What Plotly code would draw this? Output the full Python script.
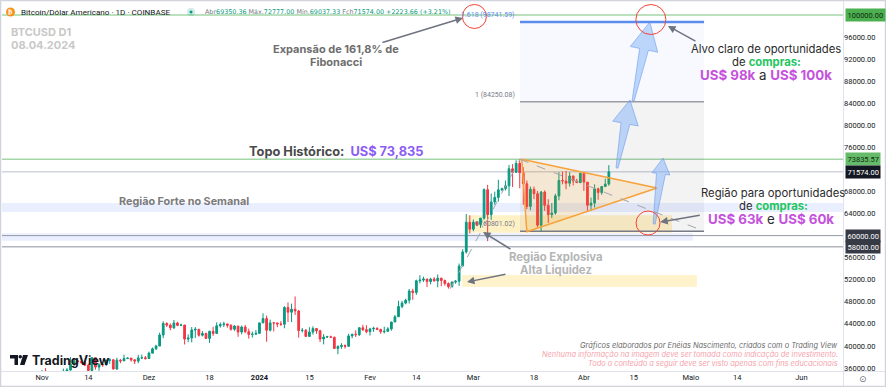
import math
import pandas as pd
import plotly.graph_objects as go

# ---------------- data (BTCUSD daily, Coinbase) ----------------
START = "2023-10-21"
OPEN = [29670, 29910, 29990, 33070, 33920, 34500, 34150, 33900, 34090, 34540, 34500,
        34650, 35420, 34940, 34730, 35080, 35050, 35040, 35420, 35630, 36700, 37320, 37140, 37060, 36500, 35540,
        37880, 36160, 36600, 36590, 37390, 37480, 35810, 37420, 37290, 37720, 37800, 37480, 37250, 37830, 37860,
        37720, 38690, 39470, 39980, 41980, 44080, 43770, 43290, 44170, 43720, 43790, 41240, 41450, 42890, 43020,
        41940, 42260, 41370, 42660, 42260, 43650, 43870, 43990, 43740, 43020, 43610, 42520, 43440, 42580, 42070, 42140,
        42280, 44180, 44960, 42850, 44180, 44160, 43970, 43930, 46970, 46120, 46660, 46340, 42780, 42840, 41730,
        42510, 43150, 42740, 41260, 41620, 41660, 41580, 39540, 39900, 40080, 39940, 41820, 42120, 42030, 43300, 42950,
        42580, 43080, 43190, 43000, 42580, 42660, 43090, 44340, 45290, 47150, 47770, 48290, 49960, 49700, 51810,
        51940, 52130, 51660, 52120, 51780, 52280, 51860, 51320, 50740, 51570, 51730, 54480, 57040, 62430,
        61170, 62440, 62030, 63170, 68330, 63800, 66110, 66930, 68300, 68500, 69020, 72120, 71480, 73100, 71400,
        69400, 65300, 68400, 67600, 61900, 67900, 65500, 63800, 64100, 67200, 70000, 69900, 69500, 70800, 69900, 69600,
        71300, 69700, 65500, 65900, 68500, 67800, 68900, 69350.36]
HIGH = [30290, 30200, 34000, 35200, 35130, 34840, 34240, 34470, 34750, 34860, 34720,
        35570, 35980, 34940, 35280, 35380, 35290, 35890, 35980, 37970, 37520, 37410, 37230, 37430, 36780, 37960,
        37930, 36830, 36840, 37520, 37760, 37650, 37860, 37650, 38420, 37890, 37820, 37570, 38390, 38440, 38170,
        38970, 39710, 40210, 42410, 44480, 44290, 44060, 44700, 44370, 44040, 43800, 42100, 43430, 43420, 43080,
        42700, 42420, 42750, 43480, 44280, 44240, 44370, 43990, 43940, 43780, 43610, 43680, 43800, 43140, 42600, 42890,
        44190, 45900, 45500, 44770, 44350, 44220, 44500, 47220, 47900, 47670, 48970, 46510, 43250, 43080, 43400,
        43570, 43200, 42930, 42150, 41840, 41870, 41680, 40130, 40500, 40280, 42200, 42200, 42840, 43310, 43840, 43750,
        43290, 43480, 43380, 43120, 43500, 43400, 44370, 45600, 48190, 48170, 48570, 50330, 50370, 52020, 52820,
        52570, 52180, 52370, 52490, 52950, 52370, 52040, 51530, 51700, 51950, 54940, 57540, 63910, 63680,
        62920, 62480, 63200, 68570, 69200, 67630, 67980, 70130, 68670, 69980, 72800, 72960, 73650, 73835.57, 72400,
        70000, 68900, 68900, 68100, 68100, 68200, 66600, 65900, 67600, 71500, 71600, 71700, 71500, 70900, 70300, 71400,
        71300, 69700, 66900, 69300, 68700, 69000, 70300, 72777.00]
LOW = [29470, 29680, 29900, 32850, 33690, 33830, 33400, 33880, 34050, 34070, 34070,
       34100, 34360, 34100, 34580, 34530, 34750, 34520, 35120, 35540, 36340, 36740, 36750, 36340, 34920, 35370,
       35700, 35510, 36210, 36390, 36750, 35760, 35690, 36870, 37250, 37600, 37150, 36720, 36870, 37610, 37500,
       37610, 38650, 39280, 39980, 41410, 43420, 42830, 43080, 43580, 43580, 40260, 40680, 40650, 41450, 41690,
       41720, 41260, 40540, 41820, 42200, 43310, 43420, 43310, 42780, 42740, 41660, 42100, 42320, 41320, 41530, 41970,
       42190, 44160, 40750, 42630, 42630, 43400, 43630, 43200, 44340, 44340, 45610, 41500, 42440, 41720, 41720,
       42050, 42200, 40680, 40280, 41430, 41500, 39450, 38500, 39480, 39520, 39820, 41400, 41620, 41800, 42690, 42280,
       41880, 42560, 42880, 42220, 42260, 42570, 42770, 44330, 45250, 46820, 47550, 47700, 48360, 49260, 51340,
       51600, 50660, 51170, 51690, 50630, 50830, 50930, 50390, 50600, 51280, 50900, 54450, 56750, 60400,
       60800, 61700, 61400, 62900, 59000, 62850, 65600, 66160, 68050, 68180, 67200, 68800, 71350, 68600, 65600,
       64800, 64600, 66600, 61500, 60801, 64500, 62300, 63200, 63800, 66400, 69300, 68400, 68900, 69100, 69600, 69600,
       68100, 64500, 64500, 65100, 66500, 67400, 68800, 69037.33]
CLOSE = [29910, 29990, 33070, 33920, 34500, 34150, 33900, 34090, 34540, 34500, 34650,
         35420, 34940, 34730, 35080, 35050, 35040, 35420, 35630, 36700, 37320, 37140, 37060, 36500, 35540, 37880,
         36160, 36600, 36590, 37390, 37480, 35810, 37420, 37290, 37720, 37800, 37480, 37250, 37830, 37860, 37720,
         38690, 39470, 39980, 41980, 44080, 43770, 43290, 44170, 43720, 43790, 41240, 41450, 42890, 43020, 41940,
         42260, 41370, 42660, 42260, 43650, 43870, 43990, 43740, 43020, 43610, 42520, 43440, 42580, 42070, 42140, 42280,
         44180, 44960, 42850, 44180, 44160, 43970, 43930, 46970, 46120, 46660, 46340, 42780, 42840, 41730, 42510,
         43150, 42740, 41260, 41620, 41660, 41580, 39540, 39900, 40080, 39940, 41820, 42120, 42030, 43300, 42950, 42580,
         43080, 43190, 43000, 42580, 42660, 43090, 44340, 45290, 47150, 47770, 48290, 49960, 49700, 51810, 51940,
         52130, 51660, 52120, 51780, 52280, 51860, 51320, 50740, 51570, 51730, 54480, 57040, 62430, 61170,
         62440, 62030, 63170, 68330, 63800, 66110, 66930, 68300, 68500, 69020, 72120, 71480, 73100, 71400, 69400,
         65300, 68400, 67600, 61900, 67900, 65500, 63800, 64100, 67200, 70000, 69900, 69500, 70800, 69900, 69600, 71300,
         69700, 65500, 65900, 68500, 67800, 68900, 69350.36, 71574.00]
DATES = pd.date_range(START, periods=len(CLOSE), freq="D")

X_TICKS = ["2023-11-01", "2023-11-14", "2023-12-01", "2023-12-18", "2024-01-01", "2024-01-15",
           "2024-02-01", "2024-02-14", "2024-03-01", "2024-03-18", "2024-04-01", "2024-04-15",
           "2024-05-01", "2024-05-14", "2024-06-01"]
X_LABELS = ["Nov", "14", "Dez", "18", "<b>2024</b>", "15", "Fev", "14", "Mar", "18", "Abr", "15",
            "Maio", "14", "Jun"]
Y_TICKS = [36000, 40000, 44000, 48000, 52000, 56000, 64000, 68000, 76000, 80000, 84000, 88000, 92000, 96000]
Y_LABELS = [f"{v:.2f}" for v in Y_TICKS]

PRICE_TAGS = [100000.00, 73835.57, 71574.00, 60000.00, 58000.00]
TAG_COLORS = [("#4caf50", "#0d2b0e"), ("#66bb6a", "#0d2b0e"), ("#131722", "#ffffff"),
              ("#363a45", "#ffffff"), ("#363a45", "#ffffff")]

FIB_LEVELS = [60801.02, 84250.08, 98741.59]
FIB_NAMES = ["0", "1", "1.618"]
FIB_A = ("2024-02-23 12:00", 50386.51)
FIB_B = ("2024-03-14 02:00", 73835.57)
FIB_C = ("2024-05-04 17:00", 60801.02)

TRI_X = ["2024-03-14 14:00", "2024-03-16 00:00", "2024-04-21 12:00", "2024-03-14 14:00"]
TRI_Y = [73835.57, 60700, 68640, 73835.57]

BLUE_ARROWS = [("2024-04-10 07:00", 72260, "2024-04-13 22:00", 84590, 13, 24),
               ("2024-04-14 19:00", 84408, "2024-04-19 12:00", 98731, 14, 28),
               ("2024-04-20 17:00", 62108, "2024-04-23 05:00", 74074, 9, 16)]
RED_CIRCLES = [("2024-03-01 07:00", 99730, 12), ("2024-04-19 19:00", 99180, 15), ("2024-04-19 00:00", 62290, 12)]

# ---------------- geometry ----------------
W, H = 886, 387
ML, MR, MT, MB = 2, 43, 4, 16
X_RANGE = [pd.Timestamp("2023-10-20 18:43"), pd.Timestamp("2024-06-12 16:20")]
Y_RANGE = [35456, 101994]
PW, PH = W - ML - MR, H - MT - MB


def xp(px):
    return (px - ML) / PW


def yp(py):
    return (H - MB - py) / PH


def to_px(t):
    return ML + (pd.Timestamp(t) - X_RANGE[0]) / (X_RANGE[1] - X_RANGE[0]) * PW


def to_py(v):
    return MT + (Y_RANGE[1] - v) / (Y_RANGE[1] - Y_RANGE[0]) * PH


def from_px(px):
    return X_RANGE[0] + (px - ML) / PW * (X_RANGE[1] - X_RANGE[0])


def from_py(py):
    return Y_RANGE[1] - (py - MT) / PH * (Y_RANGE[1] - Y_RANGE[0])


def arrow_poly(t0, v0, t1, v1, hw, hl, nw=4.5, tw=1.0):
    x0, y0, x1, y1 = to_px(t0), to_py(v0), to_px(t1), to_py(v1)
    dx, dy = x1 - x0, y1 - y0
    ln = math.hypot(dx, dy)
    ux, uy = dx / ln, dy / ln
    nx, ny = -uy, ux
    kx, ky = x1 - ux * hl, y1 - uy * hl
    pts = [(x0 + nx * tw, y0 + ny * tw), (kx + nx * nw, ky + ny * nw), (kx + nx * hw, ky + ny * hw),
           (x1, y1), (kx - nx * hw, ky - ny * hw), (kx - nx * nw, ky - ny * nw), (x0 - nx * tw, y0 - ny * tw),
           (x0 + nx * tw, y0 + ny * tw)]
    return [from_px(p[0]) for p in pts], [from_py(p[1]) for p in pts]


fig = go.Figure()

# triangle
fig.add_trace(go.Scatter(x=TRI_X, y=TRI_Y, mode="lines", fill="toself",
                         fillcolor="rgba(255,152,0,0.13)", line=dict(color="#f7a23a", width=1.5),
                         hoverinfo="skip", showlegend=False))
# blue arrows
for t0, v0, t1, v1, hw, hl in BLUE_ARROWS:
    ax_, ay_ = arrow_poly(t0, v0, t1, v1, hw, hl)
    fig.add_trace(go.Scatter(x=ax_, y=ay_, mode="lines", fill="toself",
                             fillcolor="rgba(130,178,248,0.5)", line=dict(color="rgba(100,150,235,0.55)", width=1),
                             hoverinfo="skip", showlegend=False))

fig.add_trace(go.Candlestick(x=DATES, open=OPEN, high=HIGH, low=LOW, close=CLOSE,
                             increasing=dict(line=dict(color="#089981", width=1), fillcolor="#089981"),
                             decreasing=dict(line=dict(color="#f23645", width=1), fillcolor="#f23645"),
                             whiskerwidth=0, hoverinfo="skip", showlegend=False))

shapes = []
# bands
shapes.append(dict(type="rect", xref="paper", yref="y", x0=0, x1=1, y0=64300, y1=65900,
                   fillcolor="rgba(41,98,255,0.10)", line=dict(width=0), layer="below"))
shapes.append(dict(type="rect", xref="paper", yref="y", x0=0, x1=xp(to_px("2024-05-01 14:00")),
                   y0=59050, y1=60450, fillcolor="rgba(41,98,255,0.10)", line=dict(width=0), layer="below"))
shapes.append(dict(type="rect", xref="x", yref="y", x0="2024-02-28 05:00", x1="2024-04-25 17:00",
                   y0=60500, y1=63700, fillcolor="rgba(255,213,79,0.32)", line=dict(width=0), layer="below"))
shapes.append(dict(type="rect", xref="x", yref="y", x0="2024-02-26 19:00", x1="2024-05-02 17:00",
                   y0=50700, y1=52850, fillcolor="rgba(255,213,79,0.28)", line=dict(width=0), layer="below"))
# fib fills
shapes.append(dict(type="rect", xref="x", yref="y", x0=FIB_B[0], x1=FIB_C[0], y0=FIB_LEVELS[0], y1=FIB_LEVELS[1],
                   fillcolor="rgba(120,123,134,0.09)", line=dict(width=0), layer="below"))
shapes.append(dict(type="rect", xref="x", yref="y", x0=FIB_B[0], x1=FIB_C[0], y0=FIB_LEVELS[1], y1=FIB_LEVELS[2],
                   fillcolor="rgba(41,98,255,0.04)", line=dict(width=0), layer="below"))
# horizontal lines
for v, c, w in [(100000, "#a5d6a7", 1.5), (73835.57, "#a5d6a7", 1.5), (71574, "#d1d4dc", 1.5),
                (60000, "#9598a1", 1), (58000, "#b2b5be", 1.5)]:
    shapes.append(dict(type="line", xref="paper", yref="y", x0=0, x1=1, y0=v, y1=v,
                       line=dict(color=c, width=w), layer="below"))
# fib level lines
for v, c, w in zip(FIB_LEVELS, ["#787b86", "#9a9ca3", "#5b8def"], [1.5, 1.5, 2.5]):
    shapes.append(dict(type="line", xref="x", yref="y", x0=FIB_B[0], x1=FIB_C[0], y0=v, y1=v,
                       line=dict(color=c, width=w), layer="below"))
# fib trend dashed lines
for p, q in [(FIB_A, FIB_B), (FIB_B, FIB_C)]:
    shapes.append(dict(type="line", xref="x", yref="y", x0=p[0], y0=p[1], x1=q[0], y1=q[1],
                       line=dict(color="#a3a6ad", width=1, dash="dash"), layer="above"))
# red circles
for t, v, r in RED_CIRCLES:
    shapes.append(dict(type="circle", xref="x", yref="y", xsizemode="pixel", ysizemode="pixel",
                       xanchor=t, yanchor=v, x0=-r, x1=r, y0=-r, y1=r,
                       line=dict(color="#f44336", width=1), layer="above"))
# frame
shapes.append(dict(type="line", xref="paper", yref="paper", x0=xp(0), x1=xp(W), y0=yp(371.5), y1=yp(371.5),
                   line=dict(color="#e0e3eb", width=1)))
shapes.append(dict(type="line", xref="paper", yref="paper", x0=xp(843.5), x1=xp(843.5), y0=yp(1), y1=yp(H),
                   line=dict(color="#e0e3eb", width=1)))
shapes.append(dict(type="rect", xref="paper", yref="paper", x0=xp(0.5), x1=xp(W - 0.5), y0=yp(0.5), y1=yp(H - 0.5),
                   line=dict(color="#d1d4dc", width=1.5)))
# header icons
shapes.append(dict(type="circle", xref="paper", yref="paper", x0=xp(6), x1=xp(15), y0=yp(7.5), y1=yp(16.5),
                   fillcolor="#f7931a", line=dict(width=0)))
shapes.append(dict(type="circle", xref="paper", yref="paper", x0=xp(187), x1=xp(195), y0=yp(8), y1=yp(16),
                   fillcolor="rgba(8,153,129,0.2)", line=dict(width=0)))
shapes.append(dict(type="circle", xref="paper", yref="paper", x0=xp(189.5), x1=xp(192.5), y0=yp(10.5), y1=yp(13.5),
                   fillcolor="#089981", line=dict(width=0)))
# TradingView logo glyph
shapes.append(dict(type="path", xref="paper", yref="paper",
                   path=f"M{xp(10)},{yp(355)} L{xp(18)},{yp(355)} L{xp(18)},{yp(365)} L{xp(14.5)},{yp(365)} "
                        f"L{xp(14.5)},{yp(358.5)} L{xp(10)},{yp(358.5)} Z",
                   fillcolor="#131722", line=dict(width=0)))
shapes.append(dict(type="path", xref="paper", yref="paper",
                   path=f"M{xp(23)},{yp(355)} L{xp(28)},{yp(355)} L{xp(24.5)},{yp(365)} L{xp(20)},{yp(365)} Z",
                   fillcolor="#131722", line=dict(width=0)))
shapes.append(dict(type="circle", xref="paper", yref="paper", x0=xp(18.5), x1=xp(22), y0=yp(355), y1=yp(358.5),
                   fillcolor="#131722", line=dict(width=0)))

ann = []


def txt(px_, py_, text, size, color, anchor="center", family="Inter"):
    ann.append(dict(xref="paper", yref="paper", x=xp(px_), y=yp(py_), xanchor=anchor, yanchor="middle",
                    text=text, showarrow=False, font=dict(size=size, color=color, family=family)))


# header
txt(10.5, 12, "<b>₿</b>", 6.5, "#ffffff", family="DejaVu Sans")
txt(19, 12, "Bitcoin/Dólar Americano · 1D · COINBASE", 8.1, "#131722", anchor="left", family="Roboto")
g = "#089981"
txt(203, 12, f"Abr<span style='color:{g}'>69350.36</span> Máx.<span style='color:{g}'>72777.00</span> "
              f"Mín.<span style='color:{g}'>69037.33</span> Fch<span style='color:{g}'>71574.00</span> "
              f"<span style='color:{g}'>+2223.66 (+3.21%)</span>", 6.4, "#787b86", anchor="left",
    family="DejaVu Sans")
txt(9, 32, "<b>BTCUSD D1</b>", 11, "#c8c8c8", anchor="left")
txt(9, 45.5, "<b>08.04.2024</b>", 11, "#c8c8c8", anchor="left")

txt(336, 49, "<b>Expansão de 161,8% de</b>", 11, "#6e6e6e")
txt(336, 62, "<b>Fibonacci</b>", 11, "#6e6e6e")
txt(247, 151, "<b>Topo Histórico:  <span style='color:#8c5cf5'>US$ 73,835</span></b>", 12.8, "#4a4a4a",
    anchor="left")
txt(117, 201, "<b>Região Forte no Semanal</b>", 10.8, "#7b7b7b", anchor="left")

txt(766, 49, "Alvo claro de oportunidades", 11.3, "#2b2b2b")
txt(766, 62, "de <b><span style='color:#22c55e'>compras:</span></b>", 11.3, "#2b2b2b")
txt(766, 75, "<b><span style='color:#c552dc'>US$ 98k</span></b> a <b><span style='color:#c552dc'>US$ 100k</span></b>",
    13.3, "#2b2b2b")

txt(773, 193, "Região para oportunidades", 11.3, "#2b2b2b")
txt(773, 206, "de <b><span style='color:#22c55e'>compras:</span></b>", 11.3, "#2b2b2b")
txt(771, 219, "<b><span style='color:#c552dc'>US$ 63k</span></b> e <b><span style='color:#c552dc'>US$ 60k</span></b>",
    13.3, "#2b2b2b")

txt(556, 257, "<b>Região Explosiva</b>", 11.3, "#b5b5b5")
txt(556, 270, "<b>Alta Liquidez</b>", 11.3, "#b5b5b5")

txt(840, 345, "<i>Gráficos elaborados por Enéias Nascimento, criados com o Trading View</i>", 7.4, "#6a6a6a",
    anchor="right")
txt(840, 354.5, "<i>Nenhuma informação na imagem deve ser tomada como indicação de investimento.</i>", 7.4,
    "#f5a3ab", anchor="right")
txt(840, 363.5, "<i>Todo o conteúdo a seguir deve ser visto apenas com fins educacionais</i>", 7.4, "#f5a3ab",
    anchor="right")
txt(30, 360, "<b>TradingView</b>", 12.5, "#131722", anchor="left")
txt(863, 379, "⊙", 9, "#6a6d78", family="DejaVu Sans")

# fib labels
for v, name, c in zip(FIB_LEVELS, FIB_NAMES, ["#787b86", "#787b86", "#5b8def"]):
    ann.append(dict(xref="x", yref="y", x="2024-03-13 05:00", y=v, xanchor="right", yanchor="bottom",
                    text=f"{name} ({v:.2f})", showarrow=False, yshift=1,
                    font=dict(size=7, color=c, family="Roboto")))

# price tags on the axis
for v, (bg, fg) in zip(PRICE_TAGS, TAG_COLORS):
    ann.append(dict(xref="paper", yref="y", x=1, y=v, xanchor="left", yanchor="middle", xshift=2,
                    text=f"{v:.2f}", showarrow=False, bgcolor=bg, borderpad=1.5,
                    font=dict(size=7.5, color=fg, family="Roboto")))

# grey pointer arrows
for t, v, ax_, ay_ in [("2024-02-27 02:00", 99456, -82, 25), ("2024-04-24 14:00", 98006, 29, 16),
                       ("2024-04-22 10:00", 62470, 41, -7), ("2024-03-03 17:00", 60656, 29, 18),
                       ("2024-02-28 05:00", 51592, 40, -8)]:
    ann.append(dict(xref="x", yref="y", x=t, y=v, ax=ax_, ay=ay_, text="", showarrow=True,
                    arrowhead=2, arrowsize=1, arrowwidth=1.5, arrowcolor="#6f7380", standoff=0))

fig.update_layout(
    width=W, height=H, margin=dict(l=ML, r=MR, t=MT, b=MB, pad=0),
    paper_bgcolor="#ffffff", plot_bgcolor="#ffffff",
    shapes=shapes, annotations=ann, showlegend=False, hovermode=False,
    xaxis=dict(type="date", range=X_RANGE, tickvals=X_TICKS, ticktext=X_LABELS, showgrid=False,
               zeroline=False, showline=False, ticks="", rangeslider=dict(visible=False),
               tickfont=dict(size=7.5, color="#131722", family="Roboto")),
    yaxis=dict(side="right", range=Y_RANGE, tickvals=Y_TICKS, ticktext=Y_LABELS, showgrid=False,
               zeroline=False, showline=False, ticks="",
               tickfont=dict(size=7.5, color="#131722", family="Roboto")),
)

fig.write_html("out.html", config={"displayModeBar": False},
               post_script="document.body.style.margin='0';document.body.style.overflow='hidden';")
